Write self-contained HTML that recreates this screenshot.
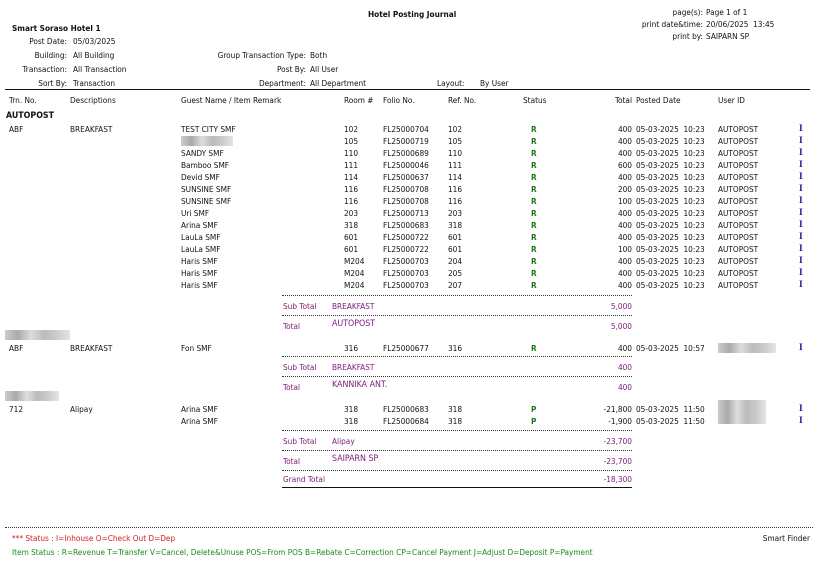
<!DOCTYPE html>
<html><head><meta charset="utf-8"><style>
body{margin:0;width:816px;height:563px;background:#fff;position:relative;overflow:hidden;font-family:"DejaVu Sans Condensed","Liberation Sans",sans-serif;font-size:8.2px;color:#111}
.t{position:absolute;line-height:10px;white-space:nowrap}
.r{text-align:right}
.b{font-weight:bold}
.g{color:#1a7a1a;font-weight:bold}
.p{color:#7a1a7a}
.i{color:#1a1a9a;font-weight:bold;font-family:"Liberation Serif",serif;font-size:9.5px}
.dot{position:absolute;border-top:1px dotted #333;height:0}
.blur{position:absolute;height:10px;background:linear-gradient(90deg,#ccc,#aaa,#ddd,#bbb,#ccc,#e5e5e5)}
</style></head><body>
<div class="t b" style="left:368px;top:9px">Hotel Posting Journal</div>
<div class="t b" style="left:12px;top:23px">Smart Soraso Hotel 1</div>
<div class="t r" style="right:113px;top:7px">page(s):</div><div class="t" style="left:706px;top:7px">Page 1 of 1</div>
<div class="t r" style="right:113px;top:19px">print date&amp;time:</div><div class="t" style="left:706px;top:19px">20/06/2025&nbsp; 13:45</div>
<div class="t r" style="right:113px;top:31px">print by:</div><div class="t" style="left:706px;top:31px">SAIPARN SP</div>
<div class="t r" style="right:749px;top:36px">Post Date:</div><div class="t" style="left:73px;top:36px">05/03/2025</div>
<div class="t r" style="right:749px;top:50px">Building:</div><div class="t" style="left:73px;top:50px">All Building</div>
<div class="t r" style="right:749px;top:64px">Transaction:</div><div class="t" style="left:73px;top:64px">All Transaction</div>
<div class="t r" style="right:749px;top:78px">Sort By:</div><div class="t" style="left:73px;top:78px">Transaction</div>
<div class="t r" style="right:510px;top:50px">Group Transaction Type:</div><div class="t" style="left:310px;top:50px">Both</div>
<div class="t r" style="right:510px;top:64px">Post By:</div><div class="t" style="left:310px;top:64px">All User</div>
<div class="t r" style="right:510px;top:78px">Department:</div><div class="t" style="left:310px;top:78px">All Department</div>
<div class="t" style="left:437px;top:78px">Layout:</div><div class="t" style="left:480px;top:78px">By User</div>
<div style="position:absolute;left:5px;top:89px;width:805px;height:1px;background:#111"></div>
<div class="t" style="left:9px;top:95px">Trn. No.</div>
<div class="t" style="left:70px;top:95px">Descriptions</div>
<div class="t" style="left:181px;top:95px">Guest Name / Item Remark</div>
<div class="t" style="left:344px;top:95px">Room #</div>
<div class="t" style="left:383px;top:95px">Folio No.</div>
<div class="t" style="left:448px;top:95px">Ref. No.</div>
<div class="t" style="left:523px;top:95px">Status</div>
<div class="t r" style="right:184px;top:95px">Total</div>
<div class="t" style="left:636px;top:95px">Posted Date</div>
<div class="t" style="left:718px;top:95px">User ID</div>
<div class="t b" style="left:6px;top:111px;font-size:8.8px">AUTOPOST</div>
<div class="t" style="left:9px;top:124px">ABF</div><div class="t" style="left:70px;top:124px">BREAKFAST</div>
<div class="t" style="left:181px;top:124px">TEST CITY SMF</div><div class="t" style="left:344px;top:124px">102</div><div class="t" style="left:383px;top:124px">FL25000704</div><div class="t" style="left:448px;top:124px">102</div><div class="t g" style="left:531px;top:124px">R</div><div class="t r" style="right:184px;top:124px">400</div><div class="t" style="left:636px;top:124px">05-03-2025&nbsp; 10:23</div><div class="t" style="left:718px;top:124px">AUTOPOST</div><div class="t i" style="left:799px;top:124px">I</div>
<div class="blur" style="left:181px;top:136px;width:52px"></div><div class="t" style="left:344px;top:136px">105</div><div class="t" style="left:383px;top:136px">FL25000719</div><div class="t" style="left:448px;top:136px">105</div><div class="t g" style="left:531px;top:136px">R</div><div class="t r" style="right:184px;top:136px">400</div><div class="t" style="left:636px;top:136px">05-03-2025&nbsp; 10:23</div><div class="t" style="left:718px;top:136px">AUTOPOST</div><div class="t i" style="left:799px;top:136px">I</div>
<div class="t" style="left:181px;top:148px">SANDY SMF</div><div class="t" style="left:344px;top:148px">110</div><div class="t" style="left:383px;top:148px">FL25000689</div><div class="t" style="left:448px;top:148px">110</div><div class="t g" style="left:531px;top:148px">R</div><div class="t r" style="right:184px;top:148px">400</div><div class="t" style="left:636px;top:148px">05-03-2025&nbsp; 10:23</div><div class="t" style="left:718px;top:148px">AUTOPOST</div><div class="t i" style="left:799px;top:148px">I</div>
<div class="t" style="left:181px;top:160px">Bamboo SMF</div><div class="t" style="left:344px;top:160px">111</div><div class="t" style="left:383px;top:160px">FL25000046</div><div class="t" style="left:448px;top:160px">111</div><div class="t g" style="left:531px;top:160px">R</div><div class="t r" style="right:184px;top:160px">600</div><div class="t" style="left:636px;top:160px">05-03-2025&nbsp; 10:23</div><div class="t" style="left:718px;top:160px">AUTOPOST</div><div class="t i" style="left:799px;top:160px">I</div>
<div class="t" style="left:181px;top:172px">Devid SMF</div><div class="t" style="left:344px;top:172px">114</div><div class="t" style="left:383px;top:172px">FL25000637</div><div class="t" style="left:448px;top:172px">114</div><div class="t g" style="left:531px;top:172px">R</div><div class="t r" style="right:184px;top:172px">400</div><div class="t" style="left:636px;top:172px">05-03-2025&nbsp; 10:23</div><div class="t" style="left:718px;top:172px">AUTOPOST</div><div class="t i" style="left:799px;top:172px">I</div>
<div class="t" style="left:181px;top:184px">SUNSINE SMF</div><div class="t" style="left:344px;top:184px">116</div><div class="t" style="left:383px;top:184px">FL25000708</div><div class="t" style="left:448px;top:184px">116</div><div class="t g" style="left:531px;top:184px">R</div><div class="t r" style="right:184px;top:184px">200</div><div class="t" style="left:636px;top:184px">05-03-2025&nbsp; 10:23</div><div class="t" style="left:718px;top:184px">AUTOPOST</div><div class="t i" style="left:799px;top:184px">I</div>
<div class="t" style="left:181px;top:196px">SUNSINE SMF</div><div class="t" style="left:344px;top:196px">116</div><div class="t" style="left:383px;top:196px">FL25000708</div><div class="t" style="left:448px;top:196px">116</div><div class="t g" style="left:531px;top:196px">R</div><div class="t r" style="right:184px;top:196px">100</div><div class="t" style="left:636px;top:196px">05-03-2025&nbsp; 10:23</div><div class="t" style="left:718px;top:196px">AUTOPOST</div><div class="t i" style="left:799px;top:196px">I</div>
<div class="t" style="left:181px;top:208px">Uri SMF</div><div class="t" style="left:344px;top:208px">203</div><div class="t" style="left:383px;top:208px">FL25000713</div><div class="t" style="left:448px;top:208px">203</div><div class="t g" style="left:531px;top:208px">R</div><div class="t r" style="right:184px;top:208px">400</div><div class="t" style="left:636px;top:208px">05-03-2025&nbsp; 10:23</div><div class="t" style="left:718px;top:208px">AUTOPOST</div><div class="t i" style="left:799px;top:208px">I</div>
<div class="t" style="left:181px;top:220px">Arina SMF</div><div class="t" style="left:344px;top:220px">318</div><div class="t" style="left:383px;top:220px">FL25000683</div><div class="t" style="left:448px;top:220px">318</div><div class="t g" style="left:531px;top:220px">R</div><div class="t r" style="right:184px;top:220px">400</div><div class="t" style="left:636px;top:220px">05-03-2025&nbsp; 10:23</div><div class="t" style="left:718px;top:220px">AUTOPOST</div><div class="t i" style="left:799px;top:220px">I</div>
<div class="t" style="left:181px;top:232px">LauLa SMF</div><div class="t" style="left:344px;top:232px">601</div><div class="t" style="left:383px;top:232px">FL25000722</div><div class="t" style="left:448px;top:232px">601</div><div class="t g" style="left:531px;top:232px">R</div><div class="t r" style="right:184px;top:232px">400</div><div class="t" style="left:636px;top:232px">05-03-2025&nbsp; 10:23</div><div class="t" style="left:718px;top:232px">AUTOPOST</div><div class="t i" style="left:799px;top:232px">I</div>
<div class="t" style="left:181px;top:244px">LauLa SMF</div><div class="t" style="left:344px;top:244px">601</div><div class="t" style="left:383px;top:244px">FL25000722</div><div class="t" style="left:448px;top:244px">601</div><div class="t g" style="left:531px;top:244px">R</div><div class="t r" style="right:184px;top:244px">100</div><div class="t" style="left:636px;top:244px">05-03-2025&nbsp; 10:23</div><div class="t" style="left:718px;top:244px">AUTOPOST</div><div class="t i" style="left:799px;top:244px">I</div>
<div class="t" style="left:181px;top:256px">Haris SMF</div><div class="t" style="left:344px;top:256px">M204</div><div class="t" style="left:383px;top:256px">FL25000703</div><div class="t" style="left:448px;top:256px">204</div><div class="t g" style="left:531px;top:256px">R</div><div class="t r" style="right:184px;top:256px">400</div><div class="t" style="left:636px;top:256px">05-03-2025&nbsp; 10:23</div><div class="t" style="left:718px;top:256px">AUTOPOST</div><div class="t i" style="left:799px;top:256px">I</div>
<div class="t" style="left:181px;top:268px">Haris SMF</div><div class="t" style="left:344px;top:268px">M204</div><div class="t" style="left:383px;top:268px">FL25000703</div><div class="t" style="left:448px;top:268px">205</div><div class="t g" style="left:531px;top:268px">R</div><div class="t r" style="right:184px;top:268px">400</div><div class="t" style="left:636px;top:268px">05-03-2025&nbsp; 10:23</div><div class="t" style="left:718px;top:268px">AUTOPOST</div><div class="t i" style="left:799px;top:268px">I</div>
<div class="t" style="left:181px;top:280px">Haris SMF</div><div class="t" style="left:344px;top:280px">M204</div><div class="t" style="left:383px;top:280px">FL25000703</div><div class="t" style="left:448px;top:280px">207</div><div class="t g" style="left:531px;top:280px">R</div><div class="t r" style="right:184px;top:280px">400</div><div class="t" style="left:636px;top:280px">05-03-2025&nbsp; 10:23</div><div class="t" style="left:718px;top:280px">AUTOPOST</div><div class="t i" style="left:799px;top:280px">I</div>
<div class="dot" style="left:282px;top:295px;width:350px"></div>
<div class="t p" style="left:283px;top:301px">Sub Total</div><div class="t p" style="left:332px;top:301px">BREAKFAST</div><div class="t r p" style="right:184px;top:301px">5,000</div>
<div class="dot" style="left:282px;top:315px;width:350px"></div>
<div class="t p" style="left:283px;top:321px">Total</div><div class="t p" style="left:332px;top:319px;font-size:8.8px">AUTOPOST</div><div class="t r p" style="right:184px;top:321px">5,000</div>
<div class="blur" style="left:5px;top:330px;width:65px"></div>
<div class="t" style="left:9px;top:343px">ABF</div><div class="t" style="left:70px;top:343px">BREAKFAST</div><div class="t" style="left:181px;top:343px">Fon SMF</div><div class="t" style="left:344px;top:343px">316</div><div class="t" style="left:383px;top:343px">FL25000677</div><div class="t" style="left:448px;top:343px">316</div><div class="t g" style="left:531px;top:343px">R</div><div class="t r" style="right:184px;top:343px">400</div><div class="t" style="left:636px;top:343px">05-03-2025&nbsp; 10:57</div><div class="blur" style="left:718px;top:343px;width:58px"></div><div class="t i" style="left:799px;top:343px">I</div>
<div class="dot" style="left:282px;top:356px;width:350px"></div>
<div class="t p" style="left:283px;top:362px">Sub Total</div><div class="t p" style="left:332px;top:362px">BREAKFAST</div><div class="t r p" style="right:184px;top:362px">400</div>
<div class="dot" style="left:282px;top:376px;width:350px"></div>
<div class="t p" style="left:283px;top:382px">Total</div><div class="t p" style="left:332px;top:380px;font-size:8.8px">KANNIKA ANT.</div><div class="t r p" style="right:184px;top:382px">400</div>
<div class="blur" style="left:5px;top:391px;width:54px"></div>
<div class="t" style="left:9px;top:404px">712</div><div class="t" style="left:70px;top:404px">Alipay</div><div class="t" style="left:181px;top:404px">Arina SMF</div><div class="t" style="left:344px;top:404px">318</div><div class="t" style="left:383px;top:404px">FL25000683</div><div class="t" style="left:448px;top:404px">318</div><div class="t g" style="left:531px;top:404px">P</div><div class="t r" style="right:184px;top:404px">-21,800</div><div class="t" style="left:636px;top:404px">05-03-2025&nbsp; 11:50</div><div class="blur" style="left:718px;top:400px;width:48px;height:24px"></div><div class="t i" style="left:799px;top:404px">I</div>
<div class="t" style="left:181px;top:416px">Arina SMF</div><div class="t" style="left:344px;top:416px">318</div><div class="t" style="left:383px;top:416px">FL25000684</div><div class="t" style="left:448px;top:416px">318</div><div class="t g" style="left:531px;top:416px">P</div><div class="t r" style="right:184px;top:416px">-1,900</div><div class="t" style="left:636px;top:416px">05-03-2025&nbsp; 11:50</div><div class="t i" style="left:799px;top:416px">I</div>
<div class="dot" style="left:282px;top:430px;width:350px"></div>
<div class="t p" style="left:283px;top:436px">Sub Total</div><div class="t p" style="left:332px;top:436px">Alipay</div><div class="t r p" style="right:184px;top:436px">-23,700</div>
<div class="dot" style="left:282px;top:450px;width:350px"></div>
<div class="t p" style="left:283px;top:456px">Total</div><div class="t p" style="left:332px;top:454px;font-size:8.8px">SAIPARN SP</div><div class="t r p" style="right:184px;top:456px">-23,700</div>
<div class="dot" style="left:282px;top:470px;width:350px"></div>
<div class="t p" style="left:283px;top:474px">Grand Total</div><div class="t r p" style="right:184px;top:474px">-18,300</div>
<div style="position:absolute;left:282px;top:487px;width:350px;height:1px;background:#111"></div>
<div class="dot" style="left:5px;top:527px;width:808px"></div>
<div class="t" style="left:12px;top:533px;color:#d02020">*** Status : I=Inhouse O=Check Out D=Dep</div>
<div class="t r" style="right:6px;top:533px">Smart Finder</div>
<div class="t" style="left:12px;top:547px;color:#1a8a1a">Item Status : R=Revenue T=Transfer V=Cancel, Delete&amp;Unuse POS=From POS B=Rebate C=Correction CP=Cancel Payment J=Adjust D=Deposit P=Payment</div>
</body></html>
